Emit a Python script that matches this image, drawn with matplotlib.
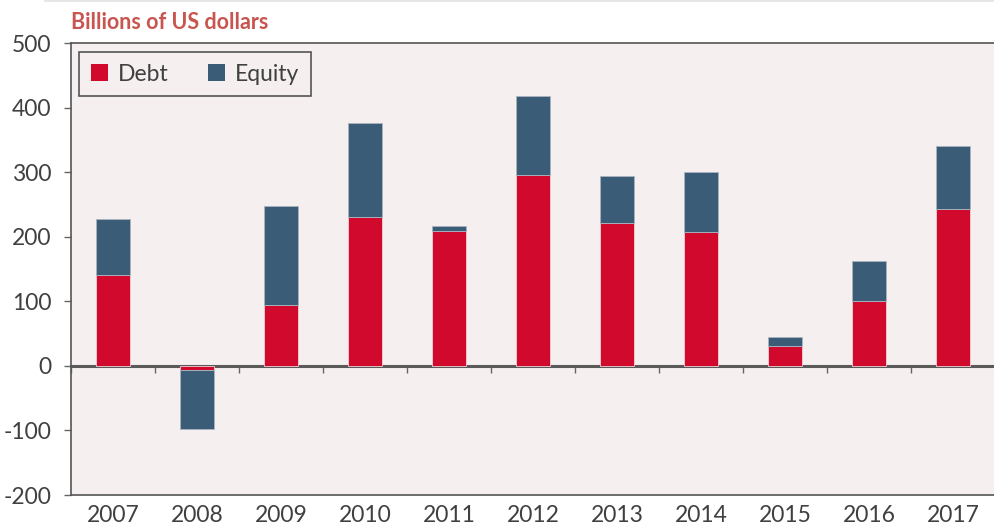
import matplotlib.pyplot as plt
from matplotlib.patches import Patch
import numpy as np

years = ["2007", "2008", "2009", "2010", "2011", "2012",
         "2013", "2014", "2015", "2016", "2017"]
debt = [141, -6, 94, 231, 209, 296, 221, 207, 30, 101, 243]
equity = [87, -92, 154, 145, 8, 122, 73, 93, 14, 62, 97]

DEBT_COLOR = "#D10A2D"
EQUITY_COLOR = "#3A5C77"
BG = "#F5EFF0"
TEXT = "#404040"

plt.rcParams["font.family"] = ["Lato", "DejaVu Sans"]
plt.rcParams["axes.unicode_minus"] = False

fig = plt.figure(figsize=(9.95, 5.27), dpi=100)
ax = fig.add_axes([0.0714, 0.0607, 0.9286, 0.8577])
ax.set_facecolor(BG)

x = np.arange(len(years))
debt = np.array(debt)
equity = np.array(equity)
# equity stacks on top of debt (or below it when both are negative)
ax.bar(x, debt, width=0.4, color=DEBT_COLOR, edgecolor="#f0d0d6", linewidth=0.6, zorder=2)
ax.bar(x, equity, width=0.4, bottom=debt, color=EQUITY_COLOR, edgecolor="#aab4c0",
       linewidth=0.6, zorder=2)

ymin, ymax = -200, 500
ax.set_ylim(ymin, ymax)
ax.set_xlim(-0.5, len(years) - 0.5)
ax.set_yticks(np.arange(-200, 501, 100))
ax.set_xticks(x)
ax.set_xticklabels(years)
ax.tick_params(axis="y", direction="out", length=5, width=1, color="#666666",
               labelsize=16.5, labelcolor=TEXT, pad=9)
ax.tick_params(axis="x", length=0, labelsize=16.5, labelcolor=TEXT, pad=7)

for side in ("left", "top", "bottom"):
    ax.spines[side].set_color("#555555")
    ax.spines[side].set_linewidth(1.2)
ax.spines["right"].set_visible(False)

# zero line with short ticks between the years
zero_pos = (0 - ymin) / (ymax - ymin)
sec = ax.secondary_xaxis(zero_pos)
sec.set_xticks(np.arange(-0.5, len(years), 1.0))
sec.set_xticklabels([])
sec.tick_params(direction="out", length=5, width=1, color="#666666")
sec.spines["bottom"].set_color("#5a5a5a")
sec.spines["bottom"].set_linewidth(2.2)
sec.spines["bottom"].set_zorder(3)

fig.text(0.0714, 0.958, "Billions of US dollars", color="#C8554F", fontsize=15.5,
         fontweight="bold", ha="left", va="center")
fig.add_artist(plt.Line2D([0.045, 1.0], [0.998, 0.998], color="#e2e2e2", linewidth=1.2))

handles = [Patch(facecolor=DEBT_COLOR, edgecolor="none", label="Debt"),
           Patch(facecolor=EQUITY_COLOR, edgecolor="none", label="Equity")]
leg = ax.legend(handles=handles, loc="upper left", bbox_to_anchor=(0.0087, 0.98),
                borderaxespad=0, ncol=2, fontsize=16.5, frameon=True, fancybox=False,
                handlelength=0.75, handleheight=0.75, handletextpad=0.45,
                columnspacing=1.7, borderpad=0.5, labelcolor=TEXT)
leg.get_frame().set_edgecolor("#555555")
leg.get_frame().set_linewidth(1.2)
leg.get_frame().set_facecolor(BG)
leg.get_frame().set_alpha(1.0)

fig.savefig("out.png", dpi=100, facecolor="white")
